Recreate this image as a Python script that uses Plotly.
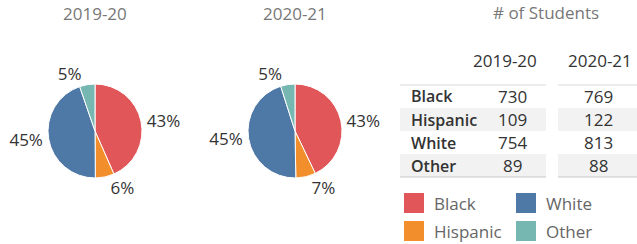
import plotly.graph_objects as go

# ---------------- data ----------------
years = ["2019-20", "2020-21"]
groups = ["Black", "Hispanic", "White", "Other"]
students_2019 = [730, 109, 754, 89]
students_2020 = [769, 122, 813, 88]
colors = ["#E15759", "#F28E2B", "#4E79A7", "#76B7B2"]
table_title = "# of Students"

# ---------------- layout helpers ----------------
W, H = 637, 244
FONT = "Open Sans"
FS = 17


def px(x):
    return x / W


def py(y):
    return 1 - y / H


fig = go.Figure()

pie_cx = [95, 295]
pie_cy = 131
R = 47
series = [students_2019, students_2020]

for year, vals, cx in zip(years, series, pie_cx):
    fig.add_trace(go.Pie(
        labels=groups, values=vals, sort=False, direction="clockwise", rotation=0,
        marker=dict(colors=colors, line=dict(color="white", width=1)),
        texttemplate="%{percent:.0%}", textposition="outside",
        textfont=dict(size=FS, color="#333333", family=FONT),
        domain=dict(x=[px(cx - R), px(cx + R)], y=[py(pie_cy + R), py(pie_cy - R)]),
        showlegend=False, hoverinfo="label+value+percent",
    ))
    fig.add_annotation(x=px(cx), y=py(14), xref="paper", yref="paper", text=year,
                       showarrow=False, font=dict(size=FS, color="#777777", family=FONT),
                       xanchor="center", yanchor="middle")

shapes = []
annos = []

# table title and headers
annos.append(dict(x=px(546), y=py(12), text=table_title,
                  font=dict(size=FS, color="#777777", family=FONT)))
col_x = [505, 600]
val_x = [512, 598]
for year, x in zip(years, col_x):
    annos.append(dict(x=px(x), y=py(60), text=year,
                      font=dict(size=FS, color="#333333", family=FONT)))

# table blocks
blocks = [(400, 546), (558, 637)]
row_top = 85
row_h = 23
for i, g in enumerate(groups):
    y0 = row_top + i * row_h
    y1 = y0 + row_h
    if i % 2 == 1:
        for bx0, bx1 in blocks:
            shapes.append(dict(type="rect", xref="paper", yref="paper",
                               x0=px(bx0), x1=px(bx1), y0=py(y1), y1=py(y0),
                               fillcolor="#F2F2F2", line=dict(width=0), layer="below"))
    annos.append(dict(x=px(409), y=py((y0 + y1) / 2), text=g, xanchor="left",
                      font=dict(size=16, color="#333333", family=FONT, weight=600)))
    for vals, x in zip(series, val_x):
        annos.append(dict(x=px(x), y=py((y0 + y1) / 2), text=str(vals[i]),
                          font=dict(size=FS, color="#333333", family=FONT)))

for bx0, bx1 in blocks:
    shapes.append(dict(type="line", xref="paper", yref="paper", x0=px(bx0), x1=px(bx1),
                       y0=py(row_top), y1=py(row_top), line=dict(color="#D9D9D9", width=1)))
    shapes.append(dict(type="line", xref="paper", yref="paper", x0=px(bx0), x1=px(bx1),
                       y0=py(row_top + 4 * row_h), y1=py(row_top + 4 * row_h),
                       line=dict(color="#C8C8C8", width=1)))

# legend (2 x 2, column-major)
leg_x = [404, 516]
leg_y = [203, 231]
for i, (g, c) in enumerate(zip(groups, colors)):
    col, row = i // 2, i % 2
    x0 = leg_x[col]
    yc = leg_y[row]
    shapes.append(dict(type="rect", xref="paper", yref="paper",
                       x0=px(x0), x1=px(x0 + 20), y0=py(yc + 10), y1=py(yc - 10),
                       fillcolor=c, line=dict(width=0)))
    annos.append(dict(x=px(x0 + 28), y=py(yc), text=g, xanchor="left",
                      font=dict(size=FS, color="#666666", family=FONT)))

for a in annos:
    a.setdefault("xanchor", "center")
    a.update(xref="paper", yref="paper", showarrow=False, yanchor="middle")
    fig.add_annotation(**a)

fig.update_layout(
    width=W, height=H, margin=dict(l=0, r=0, t=0, b=0),
    paper_bgcolor="white", plot_bgcolor="white", shapes=shapes,
    font=dict(family=FONT),
)

fig.write_html("out.html", config={"displayModeBar": False},
               post_script="document.body.style.margin='0';")
